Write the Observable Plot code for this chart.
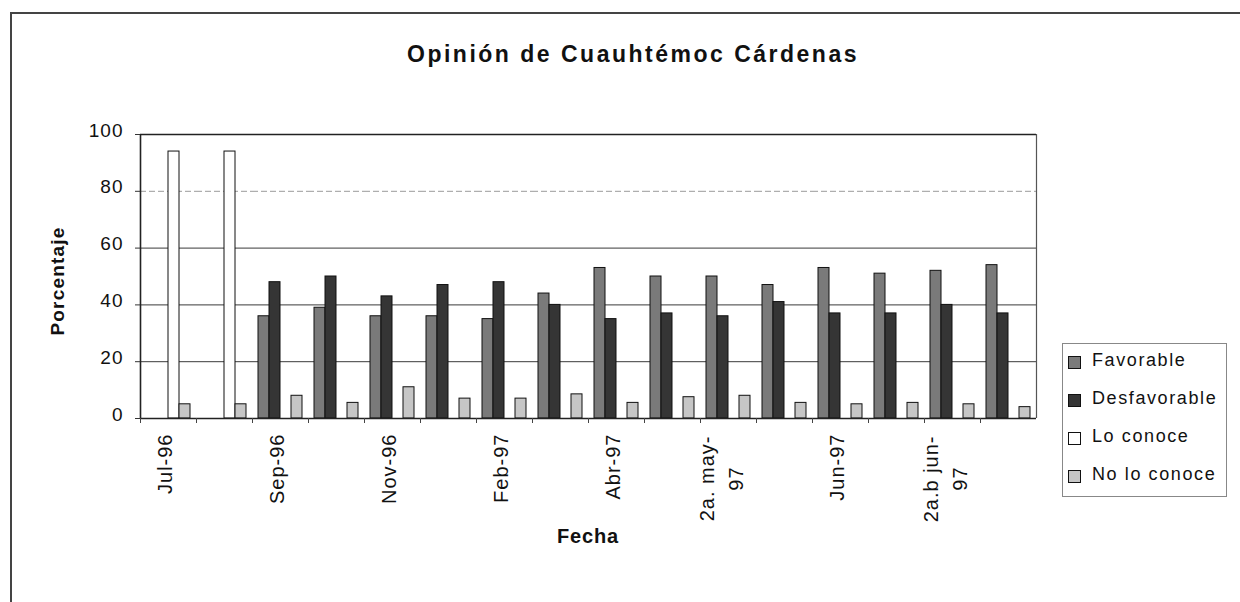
<!DOCTYPE html>
<html>
<head>
<meta charset="utf-8">
<script src="https://cdn.jsdelivr.net/npm/d3@7"></script>
<script src="https://cdn.jsdelivr.net/npm/@observablehq/plot@0.6"></script>
<style>
  html, body { margin: 0; padding: 0; background: #fff; }
  #chart { position: relative; width: 1240px; height: 602px; overflow: hidden;
           font-family: "Liberation Sans", Arial, sans-serif; color: #111; }
  #chart svg { position: absolute; left: 0; top: 0; }
  #chart svg text { letter-spacing: 1px; }
  #frame { position: absolute; left: 10px; top: 12px; width: 1300px; height: 700px;
           border-left: 2px solid #444; border-top: 2px solid #444; }
  #title { position: absolute; left: 0; width: 1266px; top: 43px; text-align: center;
           font-weight: bold; font-size: 23px; line-height: 23px; letter-spacing: 2.5px; white-space: nowrap; }
  #ylabel { position: absolute; left: 57px; top: 281px; transform: translate(-50%, -50%) rotate(-90deg);
            font-weight: bold; font-size: 19px; line-height: 19px; letter-spacing: 1.2px; white-space: nowrap; }
  #xlabel { position: absolute; left: 0; width: 1176px; top: 526px; text-align: center;
            font-weight: bold; font-size: 20px; line-height: 20px; letter-spacing: 0.8px; white-space: nowrap; }
  #legend { position: absolute; left: 1062px; top: 343px; width: 165px; height: 154px;
            border: 1px solid #888; box-sizing: border-box; }
  .item { position: absolute; left: 0; height: 20px; }
  .sw { position: absolute; left: 5px; width: 13px; height: 13px; border: 1px solid #111; box-sizing: border-box; }
  .lt { position: absolute; left: 29px; font-size: 18px; line-height: 18px; letter-spacing: 1.6px; white-space: nowrap; }
</style>
</head>
<body>
<div id="chart"></div>
<script>
// ---------- Datos ----------
const categorias = ["Jul-96", "Ago-96", "Sep-96", "Oct-96", "Nov-96", "Dic-96", "Feb-97", "Mar-97",
                    "Abr-97", "1a. may-97", "2a. may-97", "1a. jun-97", "Jun-97", "2a.a jun-97", "2a.b jun-97", "Jul-97"];
const series = ["Favorable", "Desfavorable", "Lo conoce", "No lo conoce"];
const favorable    = [0, 0, 36, 39, 36, 36, 35, 44, 53, 50, 50, 47, 53, 51, 52, 54];
const desfavorable = [0, 0, 48, 50, 43, 47, 48, 40, 35, 37, 36, 41, 37, 37, 40, 37];
const loConoce     = [94, 94, 0, 0, 0, 0, 0, 0, 0, 0, 0, 0, 0, 0, 0, 0];
const noLoConoce   = [5, 5, 8, 5.5, 11, 7, 7, 8.5, 5.5, 7.5, 8, 5.5, 5, 5.5, 5, 4];
const etiquetasX   = ["Jul-96", "Sep-96", "Nov-96", "Feb-97", "Abr-97", "2a. may-\n97", "Jun-97", "2a.b jun-\n97"];
const ticksY       = [0, 20, 40, 60, 80, 100];
const colores      = ["#7a7a7a", "#353535", "#ffffff", "#c6c6c6"];

const titulo = "Opinión de Cuauhtémoc Cárdenas";
const tituloY = "Porcentaje";
const tituloX = "Fecha";

// ---------- Tabla ----------
const valores = [favorable, desfavorable, loConoce, noLoConoce];
const tabla = categorias.flatMap((c, i) => series.map((s, j) => ({categoria: c, serie: s, valor: valores[j][i]})));
const etiq = etiquetasX.map((t, k) => {
  const [l1, l2] = t.split("\n");
  return {categoria: categorias[k * 2], l1, l2};
});
const etiq1 = etiq.filter(d => !d.l2);
const etiq2 = etiq.filter(d => d.l2);

// ---------- Layout ----------
const W = 1240, H = 602, mL = 140, mR = 204, mT = 134, mB = 184;
const paso = (W - mL - mR) / categorias.length;

const chart = Plot.plot({
  width: W, height: H,
  marginLeft: mL, marginRight: mR, marginTop: mT, marginBottom: mB,
  style: {fontFamily: "Liberation Sans, Arial, sans-serif", fontSize: "19px", color: "#111", background: "transparent"},
  fx: {domain: categorias, padding: 0, axis: null},
  x: {domain: series, paddingInner: 0, paddingOuter: 0.545, axis: null},
  y: {domain: [0, 100], axis: null},
  color: {domain: series, range: colores},
  marks: [
    Plot.ruleY([80], {stroke: "#9a9a9a", strokeDasharray: "6,3"}),
    Plot.ruleY([20, 40, 60], {stroke: "#3a3a3a", strokeWidth: 1}),
    Plot.barY(tabla, {filter: d => d.valor > 0, fx: "categoria", x: "serie", y: "valor",
                      fill: "serie", stroke: "#111", strokeWidth: 1}),
    Plot.ruleY([0, 100], {stroke: "#222", strokeWidth: 1.6}),
    Plot.ruleX([categorias[0]], {fx: d => d, x: null, dx: -paso / 2, stroke: "#222", strokeWidth: 1.6}),
    Plot.ruleX([categorias[categorias.length - 1]], {fx: d => d, x: null, dx: paso / 2, stroke: "#555", strokeWidth: 1.2}),
    Plot.ruleX(categorias, {fx: d => d, x: null, y1: () => 0, y2: () => 0, insetBottom: -5, dx: -paso / 2, stroke: "#444"}),
    Plot.axisY({ticks: ticksY, tickSize: 5, tickFormat: () => "", label: null, stroke: "#333"}),
    Plot.axisY({ticks: ticksY, tickSize: 0, tickPadding: 17, dy: -4, label: null, fontSize: 19, fill: "#111"}),
    Plot.text(etiq1, {fx: "categoria", text: "l1", frameAnchor: "bottom", rotate: -90,
                      textAnchor: "end", lineAnchor: "middle", dy: 15, dx: -3, fontSize: 20, fill: "#111"}),
    Plot.text(etiq2, {fx: "categoria", text: "l1", frameAnchor: "bottom", rotate: -90,
                      textAnchor: "end", lineAnchor: "middle", dy: 17, dx: -21, fontSize: 20, fill: "#111"}),
    Plot.text(etiq2, {fx: "categoria", text: "l2", frameAnchor: "bottom", rotate: -90,
                      textAnchor: "middle", lineAnchor: "middle", dy: 60, dx: 8, fontSize: 20, fill: "#111"})
  ]
});

const root = document.getElementById("chart");
root.appendChild(chart);

const add = (id, text) => {
  const d = document.createElement("div");
  d.id = id; d.textContent = text; root.appendChild(d); return d;
};
add("frame", "");
add("title", titulo);
add("ylabel", tituloY);
add("xlabel", tituloX);

const leg = add("legend", "");
series.forEach((s, i) => {
  const base = 22 + i * 38; // baseline within legend box
  const it = document.createElement("div");
  it.className = "item";
  const sw = document.createElement("div");
  sw.className = "sw";
  sw.style.top = (base - 10) + "px";
  sw.style.background = colores[i];
  const lt = document.createElement("div");
  lt.className = "lt";
  lt.style.top = (base - 15) + "px";
  lt.textContent = s;
  it.appendChild(sw); it.appendChild(lt);
  leg.appendChild(it);
});
</script>
</body>
</html>
